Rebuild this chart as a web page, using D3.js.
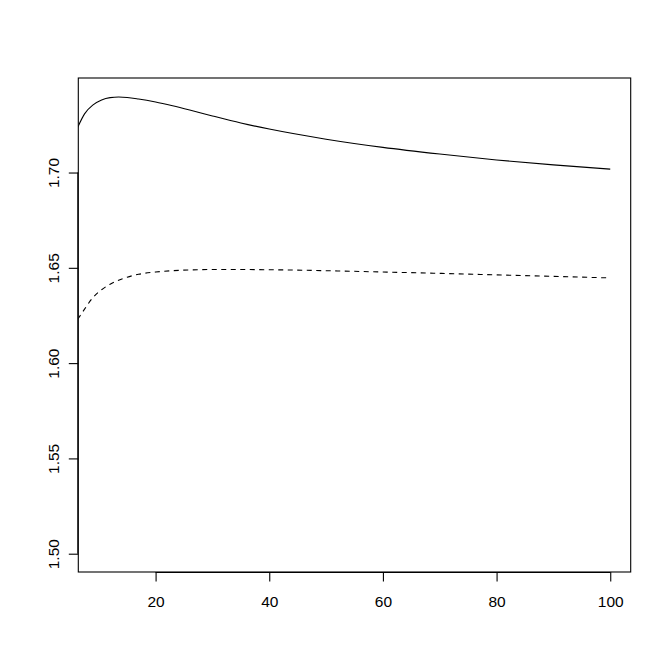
<!DOCTYPE html>
<html>
<head>
<meta charset="utf-8">
<script src="https://cdn.jsdelivr.net/npm/d3@7"></script>
<style>
  body { margin: 0; background: #fff; }
  svg { display: block; }
</style>
</head>
<body>
<svg id="plot" width="671" height="670"></svg>
<script>
// curve samples
var xs = [6.3, 7.5, 9, 10.5, 12, 13.5, 15, 17, 20, 23, 26, 30, 35, 40, 50, 60, 70, 80, 90, 100];
var solidVals = [1.7238, 1.7308, 1.7355, 1.7381, 1.7393, 1.7396, 1.7394, 1.7386, 1.7370, 1.7350,
                 1.7328, 1.7297, 1.7260, 1.7228, 1.7175, 1.7132, 1.7097, 1.7066, 1.7040, 1.7018];
var dashedVals = [1.6230, 1.6283, 1.6345, 1.6385, 1.6414, 1.6435, 1.6451, 1.6466, 1.6478, 1.6485,
                  1.6489, 1.6491, 1.6491, 1.6490, 1.6485, 1.6478, 1.6471, 1.6463, 1.6455, 1.6447];
var xTicks = [20, 40, 60, 80, 100];
var yTicks = [1.50, 1.55, 1.60, 1.65, 1.70];

var svg = d3.select("#plot");
var plotLeft = 78.3, plotRight = 630.7, plotTop = 78, plotBottom = 572;
var fontFamily = "'Liberation Sans', Arial, sans-serif";

// R style 4% padding around xlim c(10,100), ylim c(1.5,1.74)
var x = d3.scaleLinear().domain([6.4, 103.6]).range([plotLeft, plotRight]);
var y = d3.scaleLinear().domain([1.4904, 1.7496]).range([plotBottom, plotTop]);

svg.append("defs").append("clipPath")
  .attr("id", "clip")
  .append("rect")
  .attr("x", plotLeft).attr("y", plotTop)
  .attr("width", plotRight - plotLeft).attr("height", plotBottom - plotTop);

var line = d3.line()
  .x(function(d) { return x(d[0]); })
  .y(function(d) { return y(d[1]); })
  .curve(d3.curveMonotoneX);

var g = svg.append("g").attr("clip-path", "url(#clip)");

g.append("path")
  .datum(d3.zip(xs, solidVals))
  .attr("d", line)
  .attr("fill", "none")
  .attr("stroke", "#000")
  .attr("stroke-width", 1.1);

g.append("path")
  .datum(d3.zip(xs, dashedVals))
  .attr("d", line)
  .attr("fill", "none")
  .attr("stroke", "#000")
  .attr("stroke-width", 1.1)
  .attr("stroke-dasharray", "5,4.5");

// box
svg.append("rect")
  .attr("x", plotLeft).attr("y", plotTop)
  .attr("width", plotRight - plotLeft).attr("height", plotBottom - plotTop)
  .attr("fill", "none")
  .attr("stroke", "#000")
  .attr("stroke-width", 1.1);

// x axis
var xAxis = d3.axisBottom(x).tickValues(xTicks).tickSize(9.5).tickFormat(d3.format("d"));
var gx = svg.append("g").attr("transform", "translate(0," + plotBottom + ")").call(xAxis);
gx.attr("font-size", 15.5).attr("font-family", fontFamily);
gx.select(".domain").attr("d", "M" + x(xTicks[0]) + ",0.5H" + x(xTicks[xTicks.length - 1]));
gx.selectAll(".tick line").attr("stroke", "#000").attr("stroke-width", 1.1);
gx.selectAll("text").attr("fill", "#000").attr("dy", null).attr("y", 35);

// y axis, labels rotated like R's las = 0
var yAxis = d3.axisLeft(y).tickValues(yTicks).tickSize(9.5).tickFormat(d3.format(".2f"));
var gy = svg.append("g").attr("transform", "translate(" + plotLeft + ",0)").call(yAxis);
gy.attr("font-size", 15.5).attr("font-family", fontFamily);
gy.select(".domain").attr("d", "M-0.5," + y(yTicks[0]) + "V" + y(yTicks[yTicks.length - 1]));
gy.selectAll(".tick line").attr("stroke", "#000").attr("stroke-width", 1.1);
gy.selectAll("text")
  .attr("fill", "#000")
  .attr("x", null).attr("dy", null)
  .attr("text-anchor", "middle")
  .attr("transform", "translate(-19,0) rotate(-90)");
</script>
</body>
</html>
